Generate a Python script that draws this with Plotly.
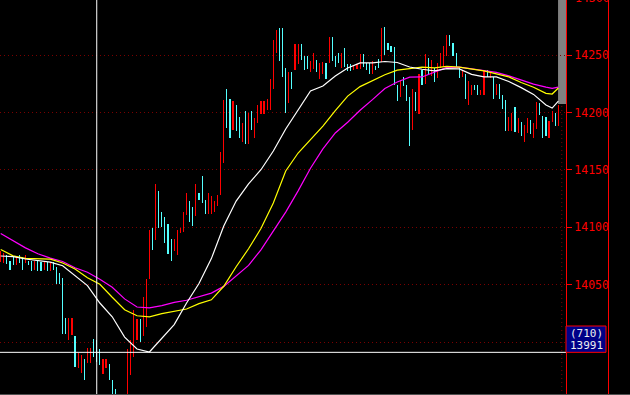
import plotly.graph_objects as go

# ---- candle data (high, low, direction r=up / c=down) ----
highs = [14079, 14078, 14076, 14071, 14074, 14074, 14076, 14074, 14076, 14071,
         14071, 14071, 14071, 14070, 14070, 14070, 14070, 14070, 14065, 14060,
         14056, 14021, 14021, 14021, 14005, 13990, 13989, 13985, 13995, 13995,
         14003, 14002, 13994, 13985, 13985, 13981, 13967, 13959, 13948, 13950,
         13950, 13994, 14002, 14028, 14020, 14020, 14039, 14055, 14098, 14099,
         14138, 14132, 14113, 14109, 14103, 14090, 14090, 14098, 14099, 14113,
         14130, 14123, 14118, 14138, 14130, 14145, 14124, 14130, 14127, 14123,
         14128, 14166, 14211, 14221, 14212, 14210, 14207, 14196, 14191, 14201,
         14200, 14201, 14195, 14207, 14210, 14210, 14212, 14229, 14263, 14272,
         14274, 14274, 14239, 14235, 14235, 14260, 14260, 14260, 14249, 14249,
         14245, 14252, 14246, 14243, 14244, 14243, 14266, 14266, 14249, 14252,
         14252, 14256, 14242, 14242, 14241, 14242, 14251, 14251, 14243, 14243,
         14245, 14241, 14247, 14274, 14275, 14261, 14258, 14257, 14224, 14228,
         14231, 14224, 14214, 14221, 14218, 14234, 14237, 14251, 14248, 14246,
         14239, 14243, 14252, 14258, 14268, 14268, 14261, 14252, 14239, 14237,
         14234, 14228, 14224, 14224, 14224, 14220, 14236, 14237, 14236, 14231,
         14225, 14225, 14215, 14211, 14196, 14200, 14205, 14195, 14192, 14189,
         14195, 14194, 14191, 14209, 14208, 14197, 14196, 14193, 14201, 14200,
         14207]
lows = [14070, 14069, 14068, 14063, 14067, 14067, 14069, 14063, 14069, 14067,
        14062, 14063, 14062, 14062, 14063, 14062, 14062, 14063, 14051, 14051,
        14007, 14007, 14002, 14006, 13978, 13977, 13973, 13967, 13982, 13982,
        13987, 13983, 13980, 13972, 13977, 13967, 13945, 13940, 13930, 13935,
        13938, 13945, 13971, 13987, 14002, 14000, 14005, 14013, 14055, 14080,
        14089, 14099, 14100, 14086, 14077, 14071, 14079, 14076, 14095, 14096,
        14111, 14105, 14101, 14110, 14124, 14121, 14112, 14112, 14112, 14113,
        14119, 14128, 14156, 14187, 14178, 14185, 14184, 14178, 14174, 14173,
        14173, 14185, 14178, 14191, 14199, 14199, 14202, 14202, 14221, 14252,
        14245, 14231, 14200, 14208, 14221, 14237, 14242, 14246, 14237, 14238,
        14235, 14238, 14235, 14229, 14234, 14229, 14243, 14245, 14240, 14243,
        14239, 14240, 14236, 14236, 14237, 14238, 14238, 14240, 14237, 14234,
        14234, 14237, 14239, 14244, 14250, 14255, 14253, 14224, 14210, 14214,
        14223, 14210, 14171, 14185, 14201, 14199, 14224, 14225, 14234, 14232,
        14227, 14230, 14239, 14240, 14249, 14258, 14249, 14240, 14230, 14231,
        14212, 14207, 14215, 14220, 14215, 14215, 14215, 14231, 14230, 14212,
        14215, 14212, 14203, 14184, 14184, 14184, 14183, 14182, 14180, 14174,
        14182, 14181, 14178, 14186, 14198, 14178, 14180, 14178, 14192, 14188,
        14188]
dirs = list("rrcccrccrc" "crccrcrccc" "ccrrcrrcrr" "cccrrccccr" "rrrrrcrrrc"
            "rcccccrrrr" "rccrcccrrr" "rrrccrccrc" "rcrrrrrrrr" "cccrcrrccc"
            "rrcrrcrccc" "rcccrrrccc" "rccrcccccr" "cccrcrcrcr" "crrrrccccr"
            "crrccrrcrc" "rcccrrcrcr" "rcrrcccrrc" "r")

# ---- moving averages (sampled) ----
ma_idx = list(range(0, 177, 4)) + [178, 180]
ma_white = [14075.0, 14074.5, 14072.4, 14071.0, 14069.7, 14066.5, 14057.8, 14049.2, 14034.0, 14022.0,
            14004.3, 13993.9, 13991.3, 14003.5, 14015.2, 14034.0, 14051.0, 14072.7, 14101.1, 14122.9,
            14137.8, 14150.2, 14166.5, 14185.7, 14202.3, 14218.9, 14223.2, 14231.9, 14238.9, 14243.3,
            14243.3, 14244.6, 14243.7, 14239.8, 14237.8, 14236.5, 14238.4, 14238.1, 14233.4, 14231.1,
            14231.1, 14227.2, 14221.8, 14215.9, 14206.6, 14204.0, 14210.1]
ma_yellow = [14080.7, 14075.1, 14072.9, 14072.4, 14072.3, 14068.9, 14063.6, 14056.1, 14050.3, 14039.0,
             14028.2, 14022.9, 14022.0, 14024.7, 14026.6, 14028.8, 14033.5, 14036.8, 14048.6, 14065.6,
             14081.3, 14098.9, 14121.2, 14149.1, 14164.8, 14176.6, 14188.3, 14201.8, 14214.4, 14222.7,
             14227.8, 14233.0, 14237.0, 14238.0, 14239.6, 14239.0, 14240.3, 14239.7, 14238.3, 14236.4,
             14233.8, 14231.2, 14226.3, 14222.1, 14216.8, 14216.2, 14221.5]
ma_magenta = [14094.7, 14088.3, 14082.1, 14077.0, 14073.1, 14070.2, 14064.7, 14060.8, 14054.8, 14047.8,
              14037.6, 14030.5, 14029.8, 14031.8, 14034.5, 14036.4, 14039.8, 14042.6, 14048.5, 14057.4,
              14066.8, 14080.4, 14096.5, 14113.3, 14131.8, 14151.5, 14168.4, 14182.3, 14191.6, 14202.1,
              14211.3, 14221.0, 14226.7, 14231.0, 14231.1, 14235.1, 14239.5, 14239.7, 14238.3, 14236.7,
              14235.1, 14232.1, 14228.5, 14224.9, 14222.2, 14221.2, 14222.3]

tick_vals = [14000, 14050, 14100, 14150, 14200, 14250]
tick_text = ["", "14050", "14100", "14150", "14200", "14250"]
top_label = "14300"
cross_idx = 31
cross_price = 13991
cross_lines = ["(710)", "13991"]

Y_MIN, Y_MAX = 13953.8, 14298.2
X_MIN, X_MAX = -0.226, 182.47
PW = 566.0  # plot width px
PH = 395.0

RED = "#ff0000"
CYAN = "#54ffff"
GRID = "#7a0000"
MONO = "DejaVu Sans Mono"

def px2price(y):
    return Y_MAX - (Y_MAX - Y_MIN) * y / PH

fig = go.Figure()

for d, col in (("r", RED), ("c", CYAN)):
    xs = [i for i, k in enumerate(dirs) if k == d]
    fig.add_trace(go.Bar(
        x=xs, base=[lows[i] for i in xs], y=[highs[i] - lows[i] for i in xs],
        width=0.05, marker=dict(color=col, line=dict(width=0)), hoverinfo="skip"))

for vals, col in ((ma_magenta, "#ff00ff"), (ma_yellow, "#ffff00"), (ma_white, "#ffffff")):
    fig.add_trace(go.Scatter(x=ma_idx, y=vals, mode="lines",
                             line=dict(color=col, width=1.2), hoverinfo="skip"))

shapes = [
    dict(type="line", xref="x", yref="paper", x0=181.1, x1=181.1, y0=0, y1=1,
         line=dict(color=GRID, width=1, dash="1px,3px"), layer="below"),
    dict(type="rect", xref="x", yref="y", x0=179.9, x1=X_MAX, y0=px2price(104), y1=Y_MAX,
         fillcolor="#808080", line=dict(width=0), layer="below"),
    dict(type="line", xref="paper", yref="y", x0=0, x1=1, y0=cross_price, y1=cross_price,
         line=dict(color="#ffffff", width=1)),
    dict(type="line", xref="x", yref="paper", x0=cross_idx, x1=cross_idx, y0=0, y1=1,
         line=dict(color="#ffffff", width=1)),
    dict(type="line", xref="paper", yref="paper", x0=608.5 / PW, x1=608.5 / PW, y0=0, y1=1,
         line=dict(color=RED, width=1)),
    dict(type="line", xref="paper", yref="paper", x0=0, x1=630 / PW, y0=0, y1=0,
         line=dict(color="#505050", width=2)),
    dict(type="rect", xref="paper", yref="y", x0=1.0, x1=606 / PW,
         y0=cross_price, y1=px2price(326),
         fillcolor="#000088", line=dict(color=RED, width=1)),
]

annotations = [
    dict(text=top_label, xref="paper", yref="paper", x=1 + 7 / PW, y=1 + 2 / PH,
         xanchor="left", yanchor="middle", showarrow=False,
         font=dict(family=MONO, size=11.5, color=RED)),
    dict(text=cross_lines[0], xref="paper", yref="y", x=586 / PW, y=px2price(333),
         xanchor="center", yanchor="middle", showarrow=False,
         font=dict(family=MONO, size=11, color="#eeeeee")),
    dict(text=cross_lines[1], xref="paper", yref="y", x=586 / PW, y=px2price(345),
         xanchor="center", yanchor="middle", showarrow=False,
         font=dict(family=MONO, size=11, color="#eeeeee")),
]

fig.update_layout(
    width=630, height=395,
    margin=dict(l=0, r=64, t=0, b=0, pad=0),
    paper_bgcolor="#000000", plot_bgcolor="#000000",
    showlegend=False, barmode="overlay", bargap=0,
    shapes=shapes, annotations=annotations,
    xaxis=dict(range=[X_MIN, X_MAX], visible=False, fixedrange=True),
    yaxis=dict(range=[Y_MIN, Y_MAX], side="right", showline=True, linecolor=RED, linewidth=1,
               ticks="outside", ticklen=5, tickwidth=1, tickcolor=RED,
               tickvals=tick_vals, ticktext=tick_text,
               tickfont=dict(family=MONO, size=11.5, color=RED),
               showgrid=True, gridcolor=GRID, gridwidth=1, griddash="1px,3px",
               zeroline=False, fixedrange=True),
)

fig.write_html("out.html")
